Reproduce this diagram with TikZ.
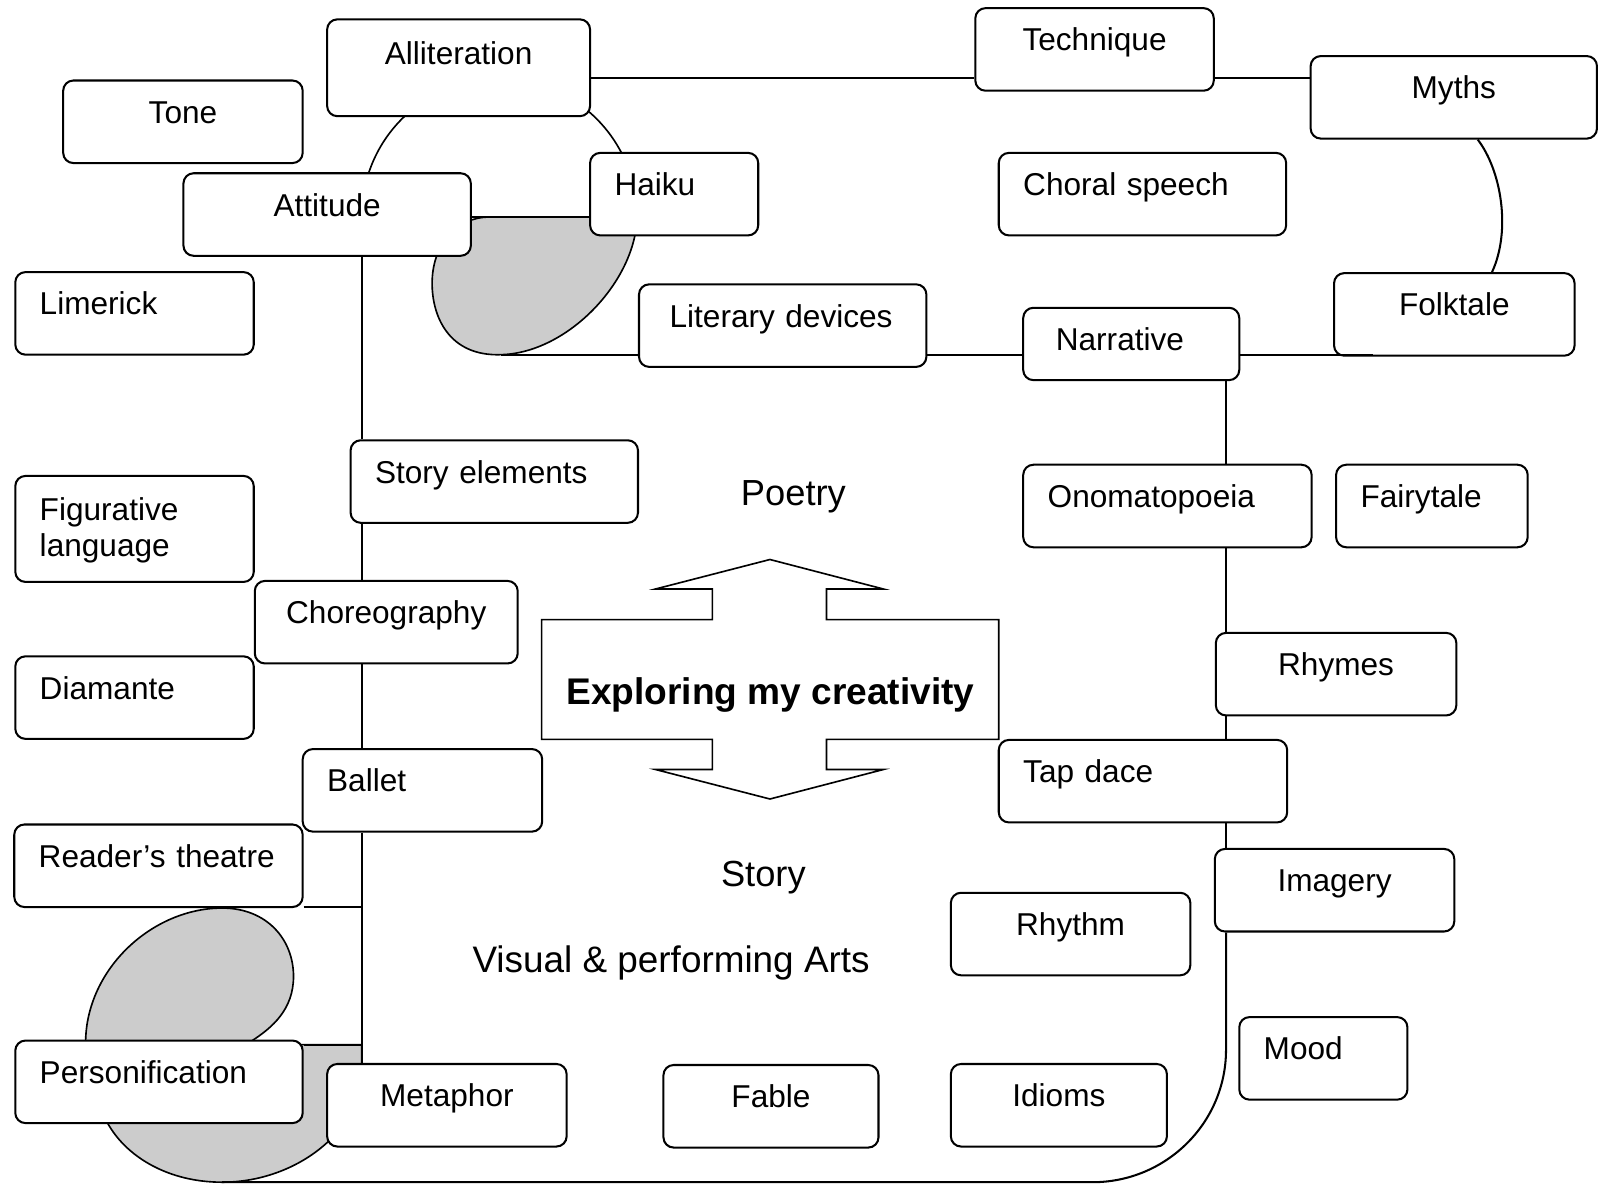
\documentclass[tikz,border=0pt]{standalone}
\usepackage{fontspec}
\setmainfont{Liberation Sans}
\usetikzlibrary{calc}
\definecolor{blobgray}{RGB}{204,204,204}

\begin{document}
\begin{tikzpicture}[x=0.5pt,y=-0.5pt,
  topic/.style={draw,fill=white,rounded corners=5pt,line width=1pt,anchor=north west,
    inner xsep=12pt,inner ysep=0pt,text height=21pt,text depth=19.5pt,align=left,
    font=\fontsize{15.5pt}{15pt}\selectfont},
  bigtext/.style={anchor=base,inner sep=0pt,font=\fontsize{17.8pt}{20pt}\selectfont},
  link/.style={draw,line width=1pt},
  blob/.style={draw,fill=blobgray,line width=0.8pt}]
\path[fill=white] (0,0) rectangle (1568,1161);
\useasboundingbox (0,0) rectangle (1568,1161);

% shapes behind the boxes
\draw[line width=0.8pt] (362,169) arc[start angle=198.6,end angle=360,radius=135];
\path[blob] (480,213) -- (625,213) .. controls (624,275) and (558,346) .. (492,348)
  .. controls (440,350) and (424,310) .. (424,278) .. controls (424,240) and (448,213) .. cycle;
\path[blob] (84,1022) .. controls (85,950) and (150,891) .. (218,891)
  .. controls (262,891) and (288,922) .. (288,958) .. controls (288,990) and (268,1008) .. (246,1022) -- cycle;
\path[blob] (250,1025) -- (355,1025) -- (355,1050) .. controls (355,1110) and (290,1160) .. (218,1160)
  .. controls (160,1160) and (115,1130) .. (100,1090) -- (100,1040) -- cycle;

% centre arrow
\path[draw,line width=0.8pt] (755.5,549) -- (867,578) -- (811,578) -- (811,608) -- (980,608)
  -- (980,725.5) -- (811,725.5) -- (811,755) -- (867,755) -- (755.5,784) -- (643,755)
  -- (699,755) -- (699,725.5) -- (531.5,725.5) -- (531.5,608) -- (699,608) -- (699,578)
  -- (643,578) -- cycle;
\node(explore)[anchor=base,inner sep=0pt,font=\bfseries\fontsize{18.2pt}{20pt}\selectfont] at (756,691){Exploring my creativity};
\node(poetry)[bigtext] at (778.5,496){Poetry};
\node(story)[bigtext] at (749,870){Story};
\node(arts)[bigtext,font=\fontsize{18.1pt}{20pt}\selectfont] at (658.5,954){Visual \& performing Arts};

% boxes
\node(tone)[topic,align=center,text width=93.5pt] at (61,78){Tone};
\node(alliteration)[topic,align=center,text width=105pt,text height=22pt,text depth=25.5pt] at (320,18){Alliteration};
\node(technique)[topic,align=center,text width=93pt] at (956,7){Technique};
\node(myths)[topic,align=center,text width=116.5pt] at (1285,54){Myths};
\node(attitude)[topic,align=center,text width=117pt] at (179,169){Attitude};
\node(haiku)[topic,text width=58.5pt] at (578,149){Haiku};
\node(choral)[topic,text width=117pt] at (979,149){Choral speech};
\node(limerick)[topic,text width=93pt] at (14,266){Limerick};
\node(literary)[topic,inner xsep=15pt,text width=111pt] at (626,278){Literary devices};
\node(narrative)[topic,inner xsep=16pt,text width=74pt,text depth=14.5pt] at (1003,301){Narrative};
\node(folktale)[topic,align=center,text width=94pt] at (1308,267){Folktale};
\node(storyel)[topic,text width=117pt] at (343,431){Story elements};
\node(figurative)[topic,text width=93pt,text height=22pt,text depth=30pt,
  font=\fontsize{15.5pt}{17.5pt}\selectfont] at (14,466){Figurative\\language};
\node(onomato)[topic,text width=117.5pt] at (1003,455){Onomatopoeia};
\node(fairytale)[topic,text width=70pt] at (1310,455){Fairytale};
\node(choreo)[topic,align=center,text width=105pt] at (249,569){Choreography};
\node(diamante)[topic,text width=93pt] at (14,643){Diamante};
\node(rhymes)[topic,align=center,text width=94pt] at (1192,620){Rhymes};
\node(ballet)[topic,text width=93.5pt] at (296,734){Ballet};
\node(tapdace)[topic,text width=117.5pt] at (979,725){Tap dace};
\node(readers)[topic,text width=117.5pt] at (13,808){Reader’s theatre};
\node(imagery)[topic,align=center,text width=93.5pt] at (1191,832){Imagery};
\node(rhythm)[topic,align=center,text width=93.5pt] at (932,875){Rhythm};
\node(mood)[topic,text width=58.5pt] at (1215,997){Mood};
\node(personif)[topic,text width=117pt] at (14,1020){Personification};
\node(metaphor)[topic,align=center,text width=93.5pt] at (320,1043){Metaphor};
\node(fable)[topic,align=center,text width=81.5pt] at (650,1044){Fable};
\node(idioms)[topic,align=center,text width=82pt] at (932,1043){Idioms};

% rows and spines
\coordinate(rowtop) at (0,77);
\coordinate(rowhaiku) at (0,213);
\coordinate(rowmid) at (0,348);
\coordinate(rowreader) at (0,890);
\coordinate(rowperson) at (0,1025);
\coordinate(leftspine) at (355,0);
\coordinate(rightspine) at (1203,0);
\coordinate(blobend) at (492,348);
\coordinate(midend) at (1347,348);
\coordinate(bendtop) at (1203,1030);
\coordinate(bendbottom) at (1072,1160);
\coordinate(bottomend) at (218,1160);

\path[link] (alliteration.east |- rowtop) -- (technique.west |- rowtop);
\path[link] (technique.east |- rowtop) -- (myths.west |- rowtop);
\path[link] (attitude.east |- rowhaiku) -- (haiku.west |- rowhaiku);
\path[link] (blobend) -- (literary.west |- rowmid);
\path[link] (literary.east |- rowmid) -- (narrative.west |- rowmid);
\path[link] (narrative.east |- rowmid) -- (midend);
\path[link] ($(myths.south)+(23.5,0)$) .. controls +(23,30) and +(19,-41) .. ($(folktale.north)+(37,0)$);

\path[link] (attitude.south -| leftspine) -- (storyel.north -| leftspine);
\path[link] (storyel.south -| leftspine) -- (choreo.north -| leftspine);
\path[link] (choreo.south -| leftspine) -- (ballet.north -| leftspine);
\path[link] (ballet.south -| leftspine) -- (metaphor.north -| leftspine);
\path[link] (readers.east |- rowreader) -- (rowreader -| leftspine);
\path[link] (personif.east |- rowperson) -- (rowperson -| leftspine);

\path[link] (narrative.south -| rightspine) -- (onomato.north -| rightspine);
\path[link] (onomato.south -| rightspine) -- (rhymes.north -| rightspine);
\path[link] (rhymes.south -| rightspine) -- (tapdace.north -| rightspine);
\path[link] (tapdace.south -| rightspine) -- (imagery.north -| rightspine);
\path[link] (imagery.south -| rightspine) -- (bendtop) .. controls +(0,72) and +(72,0) .. (bendbottom) -- (bottomend);
\end{tikzpicture}
\end{document}
